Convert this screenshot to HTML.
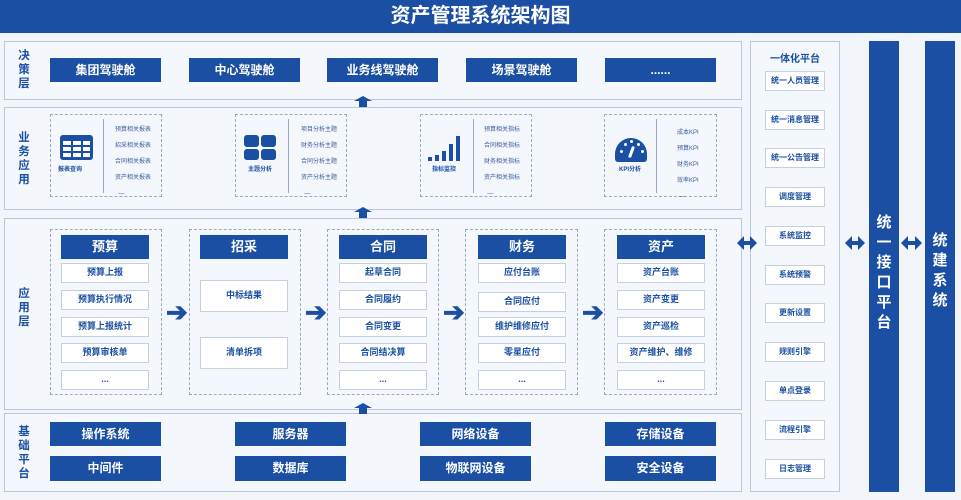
<!DOCTYPE html>
<html><head><meta charset="utf-8"><style>
*{margin:0;padding:0;box-sizing:border-box}
body{width:961px;height:500px;background:#f2f5fa;position:relative;overflow:hidden;font-family:"Liberation Sans","Noto Sans CJK SC",sans-serif;color:#1a4fa3}
div,svg{position:absolute}
.t{left:0;top:0;width:961px;height:33px;background:#1a4fa3;color:#fff;font-size:20px;font-weight:bold;text-align:center;line-height:33px}
.L{border:1.5px solid #b9c6dc;background:#f4f7fc}
.lab{font-size:11.5px;font-weight:bold;width:18px;text-align:center;line-height:14px}
.b{background:#1a4fa3;color:#fff;font-size:12px;font-weight:bold;text-align:center}
.w{background:#fff;border:1.5px solid #c4cfe2;font-size:9px;font-weight:bold;text-align:center;color:#1a4fa3}
.d{border:1px dashed #9aa8c0}
.s{font-size:6px;color:#3a5f9e;line-height:8px}
.up{width:0;height:0;border-left:9px solid transparent;border-right:9px solid transparent;border-bottom:5px solid #1a4fa3}
.ups{width:8px;background:#1a4fa3}
.ar{font-size:26px;font-weight:bold;color:#1a4fa3;line-height:20px}
.col{background:#1a4fa3;color:#fff;font-size:15px;font-weight:bold;width:30px;text-align:center;line-height:20px}
</style></head><body>
<div class="t">资产管理系统架构图</div>

<div class="L" style="left:4px;top:41px;width:738px;height:59px"></div>
<div class="lab" style="left:15px;top:49px">决<br>策<br>层</div>
<div class="b" style="left:50px;top:58px;width:111px;height:24px;line-height:24px">集团驾驶舱</div>
<div class="b" style="left:189px;top:58px;width:111px;height:24px;line-height:24px">中心驾驶舱</div>
<div class="b" style="left:327px;top:58px;width:111px;height:24px;line-height:24px">业务线驾驶舱</div>
<div class="b" style="left:466px;top:58px;width:111px;height:24px;line-height:24px">场景驾驶舱</div>
<div class="b" style="left:605px;top:58px;width:111px;height:24px;line-height:24px">......</div>

<div class="L" style="left:4px;top:107px;width:738px;height:103px"></div>
<div class="lab" style="left:15px;top:131px">业<br>务<br>应<br>用</div>

<div class="d" style="left:50px;top:114px;width:112px;height:83px"></div>
<div style="left:103px;top:119px;width:1px;height:74px;background:#9aa8c0"></div>
<div style="left:60px;top:135px;width:33px;height:25px;background:#1a4fa3;border-radius:3px"></div>
<div style="left:63px;top:141px;width:27px;height:16px;background:repeating-linear-gradient(90deg,transparent 0 8px,#1a4fa3 8px 10px),repeating-linear-gradient(0deg,#fff 0 4px,#1a4fa3 4px 6px)"></div>
<div class="s" style="left:58px;top:166px;font-weight:bold;color:#1a4fa3">报表查询</div>
<div class="s" style="left:115px;top:126px">预算相关报表<br><br>招采相关报表<br><br>合同相关报表<br><br>资产相关报表<br><br>&nbsp;&nbsp;—</div>

<div class="d" style="left:235px;top:114px;width:112px;height:83px"></div>
<div style="left:288px;top:119px;width:1px;height:74px;background:#9aa8c0"></div>
<div style="left:244px;top:135px;width:15px;height:12px;background:#1a4fa3;border-radius:3px"></div>
<div style="left:261px;top:135px;width:15px;height:12px;background:#1a4fa3;border-radius:3px"></div>
<div style="left:244px;top:149px;width:15px;height:11px;background:#1a4fa3;border-radius:3px"></div>
<div style="left:261px;top:149px;width:15px;height:11px;background:#1a4fa3;border-radius:3px"></div>
<div class="s" style="left:248px;top:166px;font-weight:bold;color:#1a4fa3">主题分析</div>
<div class="s" style="left:301px;top:126px">项目分析主题<br><br>财务分析主题<br><br>合同分析主题<br><br>资产分析主题<br><br>&nbsp;&nbsp;—</div>

<div class="d" style="left:420px;top:114px;width:112px;height:83px"></div>
<div style="left:473px;top:119px;width:1px;height:74px;background:#9aa8c0"></div>
<div style="left:428px;top:157px;width:4px;height:4px;background:#1a4fa3"></div>
<div style="left:435px;top:155px;width:4px;height:6px;background:#1a4fa3"></div>
<div style="left:442px;top:151px;width:4px;height:10px;background:#1a4fa3"></div>
<div style="left:449px;top:144px;width:4px;height:17px;background:#1a4fa3"></div>
<div style="left:456px;top:136px;width:4px;height:25px;background:#1a4fa3"></div>
<div class="s" style="left:432px;top:166px;font-weight:bold;color:#1a4fa3">指标监控</div>
<div class="s" style="left:484px;top:126px">预算相关指标<br><br>合同相关指标<br><br>财务相关指标<br><br>资产相关指标<br><br>&nbsp;&nbsp;—</div>

<div class="d" style="left:604px;top:114px;width:113px;height:83px"></div>
<div style="left:656px;top:119px;width:1px;height:74px;background:#9aa8c0"></div>
<div style="left:615px;top:138px;width:32px;height:24px;background:#1a4fa3;border-radius:16px 16px 3px 3px"></div>
<div style="left:630px;top:146px;width:3px;height:12px;background:#fff;border-radius:2px;transform:rotate(20deg)"></div>
<div style="left:620px;top:150px;width:3px;height:3px;background:#fff;border-radius:50%"></div>
<div style="left:624px;top:143px;width:3px;height:3px;background:#fff;border-radius:50%"></div>
<div style="left:630px;top:140px;width:3px;height:3px;background:#fff;border-radius:50%"></div>
<div style="left:637px;top:143px;width:3px;height:3px;background:#fff;border-radius:50%"></div>
<div style="left:641px;top:150px;width:3px;height:3px;background:#fff;border-radius:50%"></div>
<div class="s" style="left:619px;top:166px;font-weight:bold;color:#1a4fa3">KPI分析</div>
<div class="s" style="left:677px;top:129px">成本KPI<br><br>预算KPI<br><br>财务KPI<br><br>效率KPI<br><br>&nbsp;—</div>

<div class="L" style="left:4px;top:218px;width:738px;height:192px"></div>
<div class="lab" style="left:15px;top:287px">应<br>用<br>层</div>

<div class="d" style="left:50px;top:229px;width:112px;height:166px"></div>
<div class="b" style="left:61px;top:235px;width:88px;height:24px;line-height:24px;font-size:13px">预算</div>
<div class="w" style="left:61px;top:263px;width:88px;height:20px;line-height:17px">预算上报</div>
<div class="w" style="left:61px;top:290px;width:88px;height:20px;line-height:17px">预算执行情况</div>
<div class="w" style="left:61px;top:317px;width:88px;height:20px;line-height:17px">预算上报统计</div>
<div class="w" style="left:61px;top:343px;width:88px;height:20px;line-height:17px">预算审核单</div>
<div class="w" style="left:61px;top:370px;width:88px;height:20px;line-height:17px">...</div>
<div class="ar" style="left:166px;top:302px">➔</div>

<div class="d" style="left:189px;top:229px;width:112px;height:166px"></div>
<div class="b" style="left:200px;top:235px;width:88px;height:24px;line-height:24px;font-size:13px">招采</div>
<div class="w" style="left:200px;top:280px;width:88px;height:32px;line-height:29px">中标结果</div>
<div class="w" style="left:200px;top:337px;width:88px;height:32px;line-height:29px">清单拆项</div>
<div class="ar" style="left:305px;top:302px">➔</div>

<div class="d" style="left:327px;top:229px;width:112px;height:166px"></div>
<div class="b" style="left:339px;top:235px;width:88px;height:24px;line-height:24px;font-size:13px">合同</div>
<div class="w" style="left:339px;top:263px;width:88px;height:20px;line-height:17px">起草合同</div>
<div class="w" style="left:339px;top:290px;width:88px;height:20px;line-height:17px">合同履约</div>
<div class="w" style="left:339px;top:317px;width:88px;height:20px;line-height:17px">合同变更</div>
<div class="w" style="left:339px;top:343px;width:88px;height:20px;line-height:17px">合同结决算</div>
<div class="w" style="left:339px;top:370px;width:88px;height:20px;line-height:17px">...</div>
<div class="ar" style="left:443px;top:302px">➔</div>

<div class="d" style="left:465px;top:229px;width:113px;height:166px"></div>
<div class="b" style="left:478px;top:235px;width:88px;height:24px;line-height:24px;font-size:13px">财务</div>
<div class="w" style="left:478px;top:263px;width:88px;height:20px;line-height:17px">应付台账</div>
<div class="w" style="left:478px;top:292px;width:88px;height:20px;line-height:17px">合同应付</div>
<div class="w" style="left:478px;top:317px;width:88px;height:20px;line-height:17px">维护维修应付</div>
<div class="w" style="left:478px;top:343px;width:88px;height:20px;line-height:17px">零星应付</div>
<div class="w" style="left:478px;top:370px;width:88px;height:20px;line-height:17px">...</div>
<div class="ar" style="left:582px;top:302px">➔</div>

<div class="d" style="left:604px;top:229px;width:113px;height:166px"></div>
<div class="b" style="left:617px;top:235px;width:88px;height:24px;line-height:24px;font-size:13px">资产</div>
<div class="w" style="left:617px;top:263px;width:88px;height:20px;line-height:17px">资产台账</div>
<div class="w" style="left:617px;top:290px;width:88px;height:20px;line-height:17px">资产变更</div>
<div class="w" style="left:617px;top:317px;width:88px;height:20px;line-height:17px">资产巡检</div>
<div class="w" style="left:617px;top:343px;width:88px;height:20px;line-height:17px">资产维护、维修</div>
<div class="w" style="left:617px;top:370px;width:88px;height:20px;line-height:17px">...</div>

<div class="L" style="left:4px;top:413px;width:738px;height:79px"></div>
<div class="lab" style="left:15px;top:425px">基<br>础<br>平<br>台</div>
<div class="b" style="left:50px;top:422px;width:111px;height:24px;line-height:24px">操作系统</div>
<div class="b" style="left:50px;top:456px;width:111px;height:25px;line-height:25px">中间件</div>
<div class="b" style="left:235px;top:422px;width:111px;height:24px;line-height:24px">服务器</div>
<div class="b" style="left:235px;top:456px;width:111px;height:25px;line-height:25px">数据库</div>
<div class="b" style="left:420px;top:422px;width:111px;height:24px;line-height:24px">网络设备</div>
<div class="b" style="left:420px;top:456px;width:111px;height:25px;line-height:25px">物联网设备</div>
<div class="b" style="left:605px;top:422px;width:111px;height:24px;line-height:24px">存储设备</div>
<div class="b" style="left:605px;top:456px;width:111px;height:25px;line-height:25px">安全设备</div>

<!-- up arrows -->
<div class="up" style="left:354px;top:96px"></div><div class="ups" style="left:359px;top:101px;height:6px"></div>
<div class="up" style="left:354px;top:207px"></div><div class="ups" style="left:359px;top:212px;height:6px"></div>
<div class="up" style="left:354px;top:403px"></div><div class="ups" style="left:359px;top:408px;height:6px"></div>

<div class="L" style="left:750px;top:41px;width:90px;height:451px"></div>
<div style="left:750px;top:50px;width:90px;text-align:center;font-size:10px;font-weight:bold">一体化平台</div>
<div class="w" style="left:765px;top:71px;width:60px;height:20px;line-height:17px;font-size:8px">统一人员管理</div>
<div class="w" style="left:765px;top:110px;width:60px;height:20px;line-height:17px;font-size:8px">统一消息管理</div>
<div class="w" style="left:765px;top:148px;width:60px;height:20px;line-height:17px;font-size:8px">统一公告管理</div>
<div class="w" style="left:765px;top:187px;width:60px;height:20px;line-height:17px;font-size:8px">调度管理</div>
<div class="w" style="left:765px;top:226px;width:60px;height:20px;line-height:17px;font-size:8px">系统监控</div>
<div class="w" style="left:765px;top:265px;width:60px;height:20px;line-height:17px;font-size:8px">系统预警</div>
<div class="w" style="left:765px;top:303px;width:60px;height:20px;line-height:17px;font-size:8px">更新设置</div>
<div class="w" style="left:765px;top:342px;width:60px;height:20px;line-height:17px;font-size:8px">规则引擎</div>
<div class="w" style="left:765px;top:381px;width:60px;height:20px;line-height:17px;font-size:8px">单点登录</div>
<div class="w" style="left:765px;top:420px;width:60px;height:20px;line-height:17px;font-size:8px">流程引擎</div>
<div class="w" style="left:765px;top:459px;width:60px;height:20px;line-height:17px;font-size:8px">日志管理</div>

<svg style="left:0;top:0" width="961" height="500">
<g fill="#1a4fa3">
<path d="M737,243 L744,236 L744,241 L750,241 L750,236 L757,243 L750,250 L750,245 L744,245 L744,250 Z"/>
<path d="M845,243 L852,236 L852,241 L858,241 L858,236 L865,243 L858,250 L858,245 L852,245 L852,250 Z"/>
<path d="M901,243 L908,236 L908,241 L915,241 L915,236 L922,243 L915,250 L915,245 L908,245 L908,250 Z"/>
</g></svg>

<div class="col" style="left:869px;top:41px;height:451px;padding-top:172px">统<br>一<br>接<br>口<br>平<br>台</div>
<div class="col" style="left:925px;top:41px;height:451px;padding-top:190px">统<br>建<br>系<br>统</div>
</body></html>
